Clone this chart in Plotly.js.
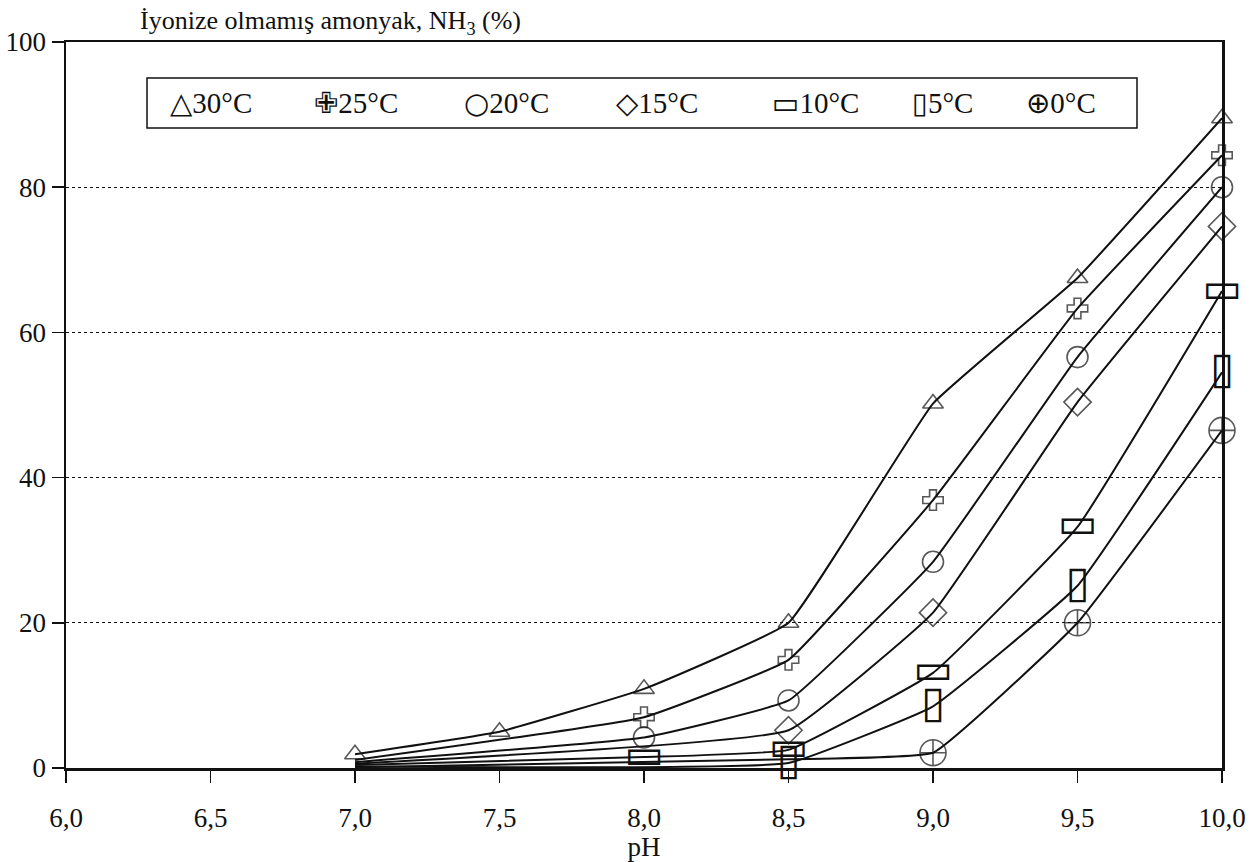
<!DOCTYPE html>
<html>
<head>
<meta charset="utf-8">
<script src="https://cdn.plot.ly/plotly-3.0.1.min.js"></script>
<style>html,body{margin:0;padding:0;background:#fff;}#chart{width:1258px;height:862px;}</style>
</head>
<body>
<div id="chart"></div>
<script>
// ---- data ----
const seriesNames = ['30°C', '25°C', '20°C', '15°C', '10°C', '5°C', '0°C'];
const legendGlyphs = ['△', '✙', '○', '◇', '▭', '▯', '⊕'];

const pH30 = [7.0, 7.5, 8.0, 8.5, 9.0, 9.5, 10.0];
const nh3_30 = [1.9, 5.0, 10.9, 20.0, 50.2, 67.5, 89.5];

const pH25 = [7.0, 8.0, 8.5, 9.0, 9.5, 10.0];
const nh3_25 = [1.1, 7.0, 14.9, 36.9, 63.3, 84.4];

const pH20 = [7.0, 8.0, 8.5, 9.0, 9.5, 10.0];
const nh3_20 = [0.8, 4.2, 9.3, 28.4, 56.6, 80.0];

const pH15 = [7.0, 8.5, 9.0, 9.5, 10.0];
const nh3_15 = [0.6, 5.2, 21.4, 50.4, 74.6];

const pH10 = [7.0, 8.0, 8.5, 9.0, 9.5, 10.0];
const nh3_10 = [0.4, 1.5, 2.5, 13.1, 33.2, 65.7];

const pH5 = [7.0, 8.5, 9.0, 9.5, 10.0];
const nh3_5 = [0.2, 0.7, 8.5, 25.1, 54.5];

const pH0 = [7.0, 8.5, 9.0, 9.5, 10.0];
const nh3_0 = [0.1, 1.2, 2.1, 20.0, 46.5];

// which points carry a marker (the lines all start at pH 7,0 without one, except 30°C)
const mark30 = [1, 1, 1, 1, 1, 1, 1];
const mark25 = [0, 1, 1, 1, 1, 1];
const mark20 = [0, 1, 1, 1, 1, 1];
const mark15 = [0, 1, 1, 1, 1];
const mark10 = [0, 1, 1, 1, 1, 1];
const mark5 = [0, 1, 1, 1, 1];
const mark0 = [0, 0, 1, 1, 1];

const xTicks = [6.0, 6.5, 7.0, 7.5, 8.0, 8.5, 9.0, 9.5, 10.0];
const yTicks = [0, 20, 40, 60, 80, 100];

// ---- styling ----
const INK = '#111';
const SERIF = '"Liberation Serif", "Times New Roman", Times, serif';
const lineStyle = {color: INK, width: 2, shape: 'spline', smoothing: 0.3};

function symTrace(x, y, mk, symbol, size) {
  return {
    x: x, y: y, type: 'scatter', mode: 'lines+markers', showlegend: false,
    line: lineStyle, cliponaxis: false,
    marker: {symbol: symbol, size: mk.map(m => m ? size : 0), color: INK,
             line: {color: INK, width: 1.6}}
  };
}
function lineOnly(x, y) {
  return {x: x, y: y, type: 'scatter', mode: 'lines', showlegend: false,
          line: lineStyle, cliponaxis: false};
}
function glyphMarks(x, y, mk, glyph, size) {
  const xs = x.filter((v, i) => mk[i]);
  const ys = y.filter((v, i) => mk[i]);
  return {
    x: xs, y: ys, type: 'scatter', mode: 'text', showlegend: false, cliponaxis: false,
    text: xs.map(() => glyph), textposition: 'middle center',
    textfont: {family: 'DejaVu Sans', size: size, color: INK}
  };
}

const traces = [
  symTrace(pH30, nh3_30, mark30, 'triangle-up-open', 18),
  symTrace(pH25, nh3_25, mark25, 'cross-open', 17),
  symTrace(pH20, nh3_20, mark20, 'circle-open', 21),
  symTrace(pH15, nh3_15, mark15, 'diamond-open', 21),
  lineOnly(pH10, nh3_10),
  glyphMarks(pH10, nh3_10, mark10, legendGlyphs[4], 42),
  lineOnly(pH5, nh3_5),
  glyphMarks(pH5, nh3_5, mark5, legendGlyphs[5], 44),
  symTrace(pH0, nh3_0, mark0, 'circle-cross-open', 26)
];

// ---- legend box built from text ----
const plotL = 66, plotR = 1222, plotT = 42, plotB = 768;
const px2x = p => (p - plotL) / (plotR - plotL);
const px2y = p => (plotB - p) / (plotB - plotT);
const legendLeft = [168, 312, 462, 614, 770, 910, 1024];
const annotations = seriesNames.map((n, i) => ({
  xref: 'paper', yref: 'paper', x: px2x(legendLeft[i]), y: px2y(103),
  xanchor: 'left', yanchor: 'middle', showarrow: false,
  text: '<span style="font-family:DejaVu Sans">' + legendGlyphs[i] + '</span>' + n,
  font: {family: SERIF, size: 29, color: INK}
}));

const layout = {
  width: 1258, height: 862,
  paper_bgcolor: '#fff', plot_bgcolor: '#fff',
  margin: {l: plotL, r: 1258 - plotR, t: plotT, b: 862 - plotB},
  separators: ',.',
  font: {family: SERIF, color: INK, size: 27},
  title: {
    text: 'İyonize olmamış amonyak, NH<sub>3</sub> (%)',
    x: 140 / 1258, xanchor: 'left', xref: 'container',
    y: 1 - 20 / 862, yanchor: 'middle', yref: 'container',
    font: {family: SERIF, size: 26, color: INK}
  },
  xaxis: {
    range: [6.0, 10.0], tickvals: xTicks, tickformat: '.1f',
    showgrid: false, zeroline: false,
    showline: true, linecolor: INK, linewidth: 2.5, mirror: true,
    ticks: 'outside', ticklen: 12, tickwidth: 1.5, tickcolor: INK,
    ticklabelstandoff: 12,
    tickfont: {family: SERIF, size: 27, color: INK},
    title: {text: 'pH', font: {family: SERIF, size: 27, color: INK}, standoff: 2}
  },
  yaxis: {
    range: [0, 100], tickvals: yTicks,
    showgrid: true, gridcolor: INK, gridwidth: 1, griddash: 'dot',
    zeroline: false,
    showline: true, linecolor: INK, linewidth: 2.5, mirror: true,
    ticks: 'outside', ticklen: 12, tickwidth: 1.5, tickcolor: INK,
    tickfont: {family: SERIF, size: 27, color: INK}
  },
  shapes: [{
    type: 'rect', xref: 'paper', yref: 'paper',
    x0: px2x(147), x1: px2x(1137), y0: px2y(128), y1: px2y(78),
    line: {color: INK, width: 1.5}, fillcolor: '#fff', layer: 'above'
  }],
  annotations: annotations,
  showlegend: false
};

Plotly.newPlot('chart', traces, layout, {staticPlot: true, displayModeBar: false});
</script>
</body>
</html>
